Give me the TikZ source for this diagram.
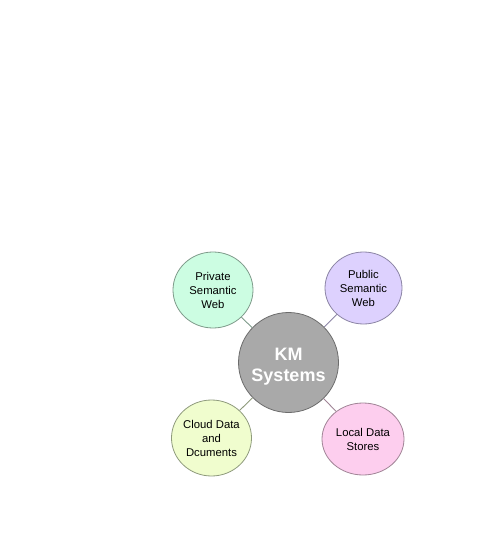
\documentclass[tikz,border=0pt]{standalone}
\usepackage{fontspec}
\setmainfont{Liberation Sans}
\usetikzlibrary{shapes.geometric}
\definecolor{privfill}{HTML}{CCFDE2}
\definecolor{pubfill}{HTML}{DDD1FE}
\definecolor{cloudfill}{HTML}{F0FDCE}
\definecolor{localfill}{HTML}{FDCEEE}
\definecolor{kmfill}{HTML}{A9A9A9}
\definecolor{privline}{HTML}{7E9A8A}
\definecolor{publine}{HTML}{8B84A4}
\definecolor{cloudline}{HTML}{8E9A7C}
\definecolor{localline}{HTML}{A08496}
\begin{document}
\begin{tikzpicture}[x=1pt,y=-1pt,
  leaf/.style={ellipse, draw=#1, line width=0.8pt, inner sep=0pt, align=center,
    font=\fontsize{11.3}{14}\selectfont, text=black},
  hub/.style={ellipse, draw=gray!85!black, fill=kmfill, line width=0.8pt, inner sep=0pt,
    minimum width=100pt, minimum height=100pt},
  hubtext/.style={align=center, inner sep=0pt,
    font=\fontsize{18}{21}\selectfont\bfseries, text=white},
  link/.style={line width=0.9pt}]
\useasboundingbox (0,0) rectangle (476,548);
\node[hub] (km) at (288.5,362.5) {};
\node[hubtext] (kmlabel) at ([yshift=-4pt]km.center) {KM\\Systems};
\node[leaf=privline, fill=privfill, minimum width=80pt, minimum height=76pt] (priv) at (213,290) {Private\\Semantic\\Web};
\node[leaf=publine, fill=pubfill, minimum width=77pt, minimum height=72pt] (pub) at (363.5,288) {Public\\Semantic\\Web};
\node[leaf=cloudline, fill=cloudfill, minimum width=80pt, minimum height=76pt] (cloud) at (211.5,438) {Cloud Data\\and\\Dcuments};
\node[leaf=localline, fill=localfill, minimum width=82pt, minimum height=72pt] (local) at (363,439) {Local Data\\Stores};
\draw[link, draw=privline] (km) -- (priv);
\draw[link, draw=publine] (km) -- (pub);
\draw[link, draw=cloudline] (km) -- (cloud);
\draw[link, draw=localline] (km) -- (local);
\end{tikzpicture}
\end{document}
